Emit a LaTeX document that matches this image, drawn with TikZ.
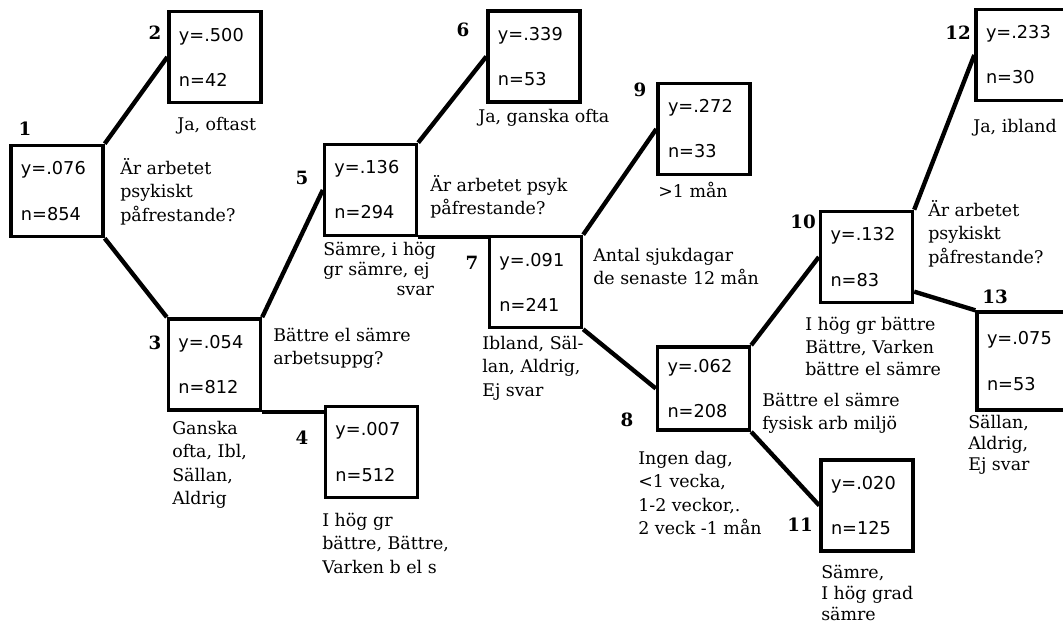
\documentclass[tikz,border=0pt]{standalone}
\usepackage{fontspec}
\setmainfont{DejaVu Serif}
\newfontfamily\boxfont{DejaVu Sans}
\usetikzlibrary{calc}
\tikzset{
  leafbox/.style={draw, line width=2.4pt, minimum width=2.3cm, minimum height=2.28cm,
    text width=1.8cm, inner xsep=0.25cm, align=left,
    font=\boxfont\fontsize{12.6pt}{15pt}\selectfont},
  nodenum/.style={inner sep=0pt, font=\bfseries\fontsize{13pt}{15pt}\selectfont},
  answer/.style={anchor=north west, inner sep=0pt, align=left,
    font=\fontsize{12.4pt}{16.6pt}\selectfont},
  branch/.style={line width=3.1pt}
}

\begin{document}
\begin{tikzpicture}[x=0.025cm,y=-0.025cm]
\useasboundingbox (0,0) rectangle (1063,630);
\clip (0,0) rectangle (1063,630);
%Boxes
\node[leafbox] (b1) at (57,191) {y=.076\\[0.6cm]n=854};
\node[leafbox] (b2) at (215,57) {y=.500\\[0.6cm]n=42};
\node[leafbox] (b3) at (214.5,364.5) {y=.054\\[0.6cm]n=812};
\node[leafbox] (b4) at (371.5,452) {y=.007\\[0.6cm]n=512};
\node[leafbox] (b5) at (370.5,190) {y=.136\\[0.6cm]n=294};
\node[leafbox] (b6) at (534,56.5) {y=.339\\[0.6cm]n=53};
\node[leafbox] (b7) at (535.5,282) {y=.091\\[0.6cm]n=241};
\node[leafbox,minimum height=2.08cm] (b8) at (703.5,388.5) {y=.062\\[0.6cm]n=208};
\node[leafbox] (b9) at (704,129) {y=.272\\[0.6cm]n=33};
\node[leafbox] (b10) at (866.5,257) {y=.132\\[0.6cm]n=83};
\node[leafbox] (b11) at (867,505.5) {y=.020\\[0.6cm]n=125};
\node[leafbox] (b12) at (1022,55) {y=.233\\[0.6cm]n=30};
\node[leafbox,minimum height=2.45cm] (b13) at (1023,361) {y=.075\\[0.6cm]n=53};
%Branches
\draw[branch] (b1.north east) -- (b2.west);
\draw[branch] (b1.south east) -- (b3.north west);
\draw[branch] (b3.north east) -- (b5.west);
\draw[branch] (b3.south east) -- (b3.south east -| b4.west);
\draw[branch] (b5.north east) -- (b6.west);
\draw[branch] (b5.south east) -- (b5.south east -| b7.west);
\draw[branch] (b7.north east) -- (b9.west);
\draw[branch] (b7.south east) -- (b8.west);
\draw[branch] (b8.north east) -- (b10.west);
\draw[branch] (b8.south east) -- (b11.west);
\draw[branch] (b10.north east) -- (b12.west);
\draw[branch] (b10.-36) -- (b13.north west);
%Node numbers
\node[nodenum] (n1) at (25,129) {1};
\node[nodenum] (n2) at (155,33) {2};
\node[nodenum] (n3) at (155,343) {3};
\node[nodenum] (n4) at (302,438) {4};
\node[nodenum] (n5) at (302,178) {5};
\node[nodenum] (n6) at (463,30) {6};
\node[nodenum] (n7) at (472,263) {7};
\node[nodenum] (n8) at (627,420) {8};
\node[nodenum] (n9) at (640,90) {9};
\node[nodenum] (n10) at (803,222) {10};
\node[nodenum] (n11) at (800,525) {11};
\node[nodenum] (n12) at (958,33) {12};
\node[nodenum] (n13) at (995,297) {13};
%Questions
\node[answer] (q1) at (120,158) {Är arbetet\\psykiskt\\påfrestande?};
\node[answer] (q3) at (273,328) {Bättre el sämre\\arbetsuppg?};
\node[answer] (q5) at (430,175) {Är arbetet psyk\\påfrestande?};
\node[answer] (q7) at (593,248) {Antal sjukdagar\\de senaste 12 mån};
\node[answer] (q8) at (762,393) {Bättre el sämre\\fysisk arb miljö};
\node[answer] (q10) at (928,200) {Är arbetet\\psykiskt\\påfrestande?};
%Answers
\node[answer] (a2) at (177,117) {Ja, oftast};
\node[answer] (a3) at (172,421) {Ganska\\ofta, Ibl,\\Sällan,\\Aldrig};
\node[answer] (a4) at (322,513) {I hög gr\\bättre, Bättre,\\Varken b el s};
\node[answer,font=\fontsize{12.4pt}{14.2pt}\selectfont] (a5) at (323,242) {Sämre, i hög\\gr sämre, ej\\\hspace*{4.2em}svar};
\node[answer] (a6) at (478,109) {Ja, ganska ofta};
\node[answer] (a7) at (482,336) {Ibland, Säl-\\lan, Aldrig,\\Ej svar};
\node[answer] (a8) at (638,451) {Ingen dag,\\<1 vecka,\\1-2 veckor,.\\2 veck -1 mån};
\node[answer] (a9) at (658,182) {>1 mån};
\node[answer,font=\fontsize{12.4pt}{16pt}\selectfont] (a10) at (805,317) {I hög gr bättre\\Bättre, Varken\\bättre el sämre};
\node[answer,font=\fontsize{12.4pt}{15pt}\selectfont] (a11) at (821,565) {Sämre,\\I hög grad\\sämre};
\node[answer] (a12) at (973,119) {Ja, ibland};
\node[answer,font=\fontsize{12.4pt}{15pt}\selectfont] (a13) at (968,415) {Sällan,\\Aldrig,\\Ej svar};
\end{tikzpicture}
\end{document}
